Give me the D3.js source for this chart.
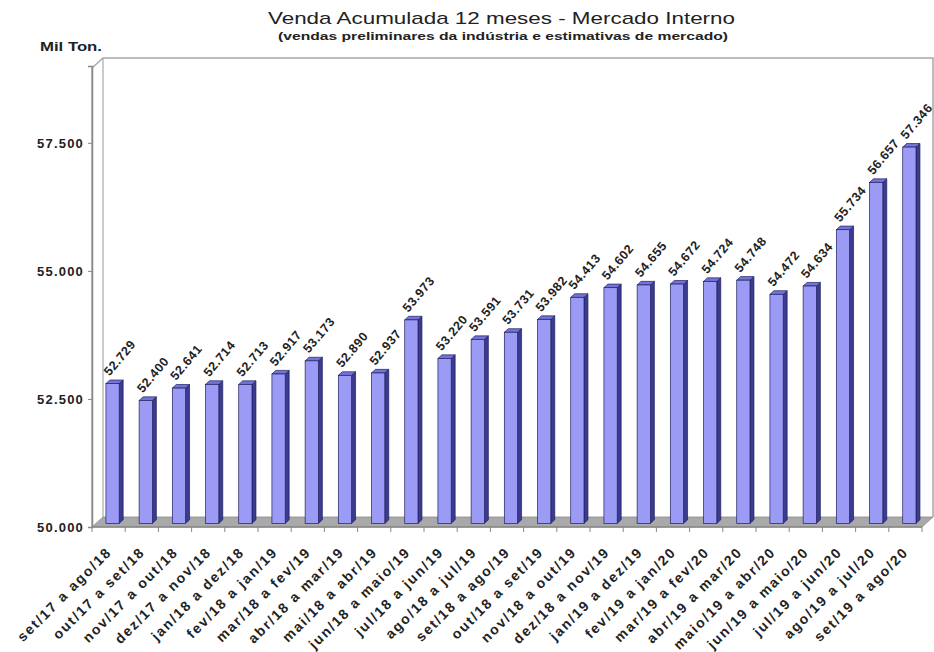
<!DOCTYPE html>
<html>
<head>
<meta charset="utf-8">
<script src="https://cdn.jsdelivr.net/npm/d3@7"></script>
<style>
  body { margin: 0; background: #fff; }
  svg { display: block; font-family: 'Liberation Sans', Arial, sans-serif; }
</style>
</head>
<body>
<svg width="934" height="652"></svg>
<script>
const categories = [
    'set/17 a ago/18', 'out/17 a set/18', 'nov/17 a out/18', 'dez/17 a nov/18',
    'jan/18 a dez/18', 'fev/18 a jan/19', 'mar/18 a fev/19', 'abr/18 a mar/19',
    'mai/18 a abr/19', 'jun/18 a maio/19', 'jul/18 a jun/19', 'ago/18 a jul/19',
    'set/18 a ago/19', 'out/18 a set/19', 'nov/18 a out/19', 'dez/18 a nov/19',
    'jan/19 a dez/19', 'fev/19 a jan/20', 'mar/19 a fev/20', 'abr/19 a mar/20',
    'maio/19 a abr/20', 'jun/19 a maio/20', 'jul/19 a jun/20', 'ago/19 a jul/20',
    'set/19 a ago/20'
];
const values = [
    52729, 52400, 52641, 52714, 52713, 52917, 53173, 52890, 52937, 53973,
    53220, 53591, 53731, 53982, 54413, 54602, 54655, 54672, 54724, 54748,
    54472, 54634, 55734, 56657, 57346
];
const yTicks = [50000, 52500, 55000, 57500];
const yDomain = [50000, 59000];

const title = 'Venda Acumulada 12 meses -  Mercado Interno';
const subtitle = '(vendas preliminares da indústria e estimativas de mercado)';
const unitLabel = 'Mil Ton.';

const svg = d3.select('svg');

// front plane of the 3D box
const plotLeft = 92, plotRight = 922, plotBottom = 527, plotTop = 66;
// full depth offset of the box
const depth = {x: 11, y: -10};

const data = categories.map((c, i) => ({cat: c, value: values[i]}));

const x = d3.scaleBand()
    .domain(categories)
    .range([plotLeft, plotRight])
    .paddingInner(0.6)
    .paddingOuter(0.3);
const step = x.step();

const y = d3.scaleLinear()
    .domain(yDomain)
    .range([plotBottom, plotTop]);

const fmt = v => d3.format(',')(v).replace(/,/g, '.');

// walls
const wallColor = '#a8a8a8';
svg.append('path')
    .attr('d', `M${plotLeft},${plotBottom} L${plotLeft},${plotTop + 2} L${plotLeft + depth.x},${plotTop + 2 + depth.y}`
        + ` L${plotRight + depth.x},${plotTop + 2 + depth.y} L${plotRight + depth.x},${plotBottom + depth.y}`)
    .attr('fill', 'none')
    .attr('stroke', wallColor)
    .attr('stroke-width', 1.5);
svg.append('line')
    .attr('x1', plotLeft + depth.x).attr('x2', plotLeft + depth.x)
    .attr('y1', plotTop + 2 + depth.y).attr('y2', plotBottom + depth.y)
    .attr('stroke', wallColor)
    .attr('stroke-width', 1.2);

// floor
svg.append('path')
    .attr('d', `M${plotLeft},${plotBottom} L${plotRight},${plotBottom} L${plotRight + depth.x},${plotBottom + depth.y}`
        + ` L${plotLeft + depth.x},${plotBottom + depth.y} Z`)
    .attr('fill', '#a9a9a9')
    .attr('stroke', '#8a8a8a')
    .attr('stroke-width', 0.8);

// bars
const f0 = 0.36, f1 = 0.72;
const ox = depth.x * f0, oy = depth.y * f0;
const dx = depth.x * (f1 - f0), dy = depth.y * (f1 - f0);
const bw = x.bandwidth();

const bars = svg.append('g')
    .selectAll('g')
    .data(data)
    .enter().append('g');

bars.append('path')
    .attr('d', function (d) {
        const x0 = x(d.cat) + ox + bw, y0 = y(d.value) + oy, y1 = plotBottom + oy;
        return `M${x0},${y0} L${x0 + dx},${y0 + dy} L${x0 + dx},${y1 + dy} L${x0},${y1} Z`;
    })
    .attr('fill', '#3b3b8f')
    .attr('stroke', '#202060')
    .attr('stroke-width', 0.7);

bars.append('path')
    .attr('d', function (d) {
        const x0 = x(d.cat) + ox, y0 = y(d.value) + oy;
        return `M${x0},${y0} L${x0 + dx},${y0 + dy} L${x0 + bw + dx},${y0 + dy} L${x0 + bw},${y0} Z`;
    })
    .attr('fill', '#7474d8')
    .attr('stroke', '#202060')
    .attr('stroke-width', 0.7);

bars.append('rect')
    .attr('x', d => x(d.cat) + ox)
    .attr('y', d => y(d.value) + oy)
    .attr('width', bw)
    .attr('height', d => plotBottom - y(d.value))
    .attr('fill', '#9b9bf6')
    .attr('stroke', '#202060')
    .attr('stroke-width', 0.7);

// value labels
bars.append('text')
    .attr('transform', function (d) {
        const tx = x(d.cat) + ox + bw / 2 - 3;
        const ty = y(d.value) + oy - 7;
        return `translate(${tx},${ty}) rotate(-50)`;
    })
    .attr('font-size', 12.5)
    .attr('font-weight', 'bold')
    .attr('letter-spacing', 0.6)
    .attr('fill', '#222')
    .text(d => fmt(d.value));

// y axis (front left edge)
const yAxis = svg.append('g')
    .attr('transform', `translate(${plotLeft},0)`)
    .call(d3.axisLeft(y).tickValues(yTicks).tickSize(4).tickFormat(fmt));
yAxis.select('.domain').attr('stroke', '#888').attr('stroke-width', 1.5);
yAxis.selectAll('.tick line').attr('stroke', '#888');
yAxis.selectAll('.tick text')
    .attr('x', -8)
    .attr('font-size', 13)
    .attr('font-weight', 'bold')
    .attr('letter-spacing', 1.2)
    .attr('fill', '#222')
    .attr('font-family', "'Liberation Sans', Arial, sans-serif");

// x axis (front bottom edge)
const tickPos = d3.range(categories.length + 1).map(i => plotLeft + i * step);
svg.append('line')
    .attr('x1', plotLeft).attr('x2', plotRight)
    .attr('y1', plotBottom).attr('y2', plotBottom)
    .attr('stroke', '#888')
    .attr('stroke-width', 1.5);
svg.append('g')
    .selectAll('line')
    .data(tickPos)
    .enter().append('line')
    .attr('x1', d => d).attr('x2', d => d)
    .attr('y1', plotBottom).attr('y2', plotBottom + 5)
    .attr('stroke', '#888');

svg.append('g')
    .selectAll('text')
    .data(data)
    .enter().append('text')
    .attr('transform', d => `translate(${x(d.cat) + bw / 2 + 4},${plotBottom + 26}) rotate(-45)`)
    .attr('text-anchor', 'end')
    .attr('font-size', 14)
    .attr('font-weight', 'bold')
    .attr('letter-spacing', 1.8)
    .attr('fill', '#222')
    .text(d => d.cat);

// titles
svg.append('text')
    .attr('x', 268).attr('y', 24)
    .attr('textLength', 467)
    .attr('lengthAdjust', 'spacingAndGlyphs')
    .attr('font-size', 17)
    .attr('fill', '#222')
    .text(title);
svg.append('text')
    .attr('x', 278).attr('y', 40)
    .attr('textLength', 450)
    .attr('lengthAdjust', 'spacingAndGlyphs')
    .attr('font-size', 11)
    .attr('font-weight', 'bold')
    .attr('fill', '#222')
    .text(subtitle);
svg.append('text')
    .attr('x', 40).attr('y', 51)
    .attr('textLength', 62)
    .attr('lengthAdjust', 'spacingAndGlyphs')
    .attr('font-size', 12)
    .attr('font-weight', 'bold')
    .attr('fill', '#222')
    .text(unitLabel);
</script>
</body>
</html>
